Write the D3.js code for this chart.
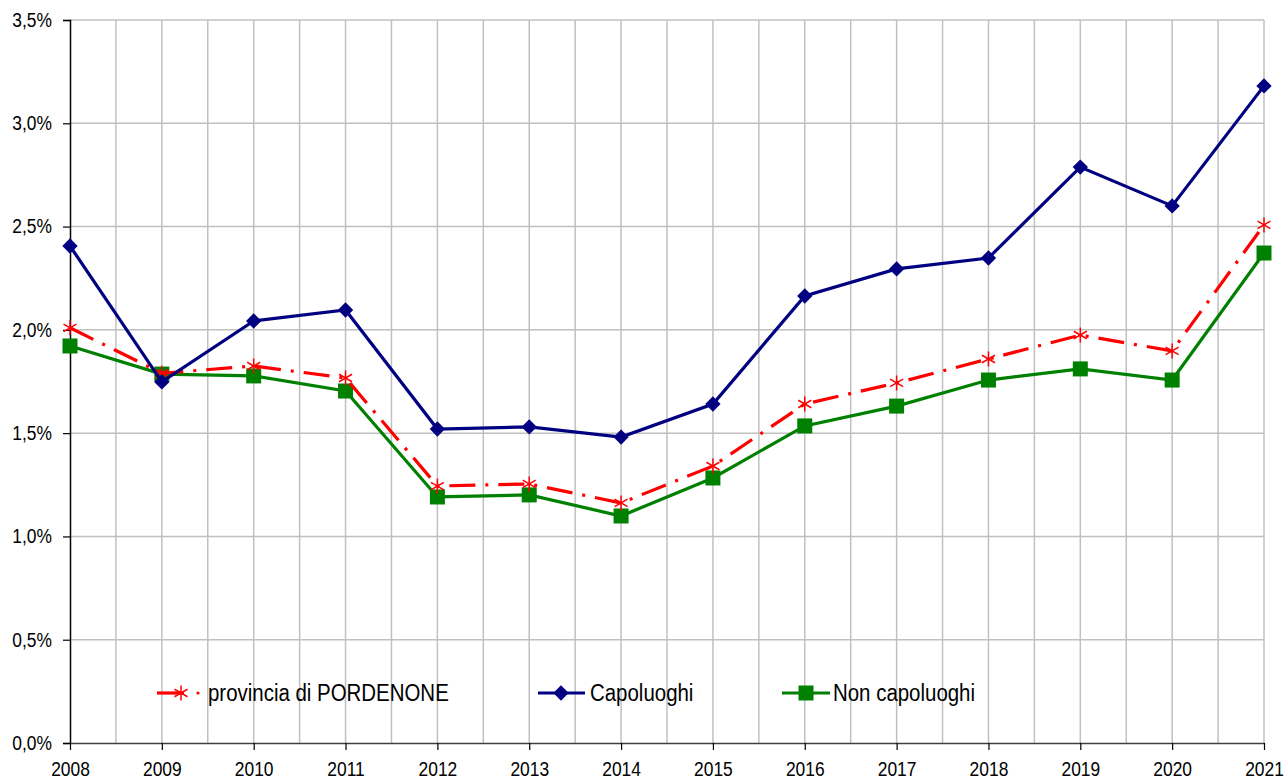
<!DOCTYPE html>
<html>
<head>
  <script src="https://d3js.org/d3.v7.min.js"></script>
  <style>
    body { margin: 0; background: #fff; }
    text { font-family: "Liberation Sans", Arial, sans-serif; fill: #000; }
  </style>
</head>
<body>
  <svg id="chart"></svg>
  <script>
    var years = [2008, 2009, 2010, 2011, 2012, 2013, 2014, 2015, 2016, 2017, 2018, 2019, 2020, 2021];
    var provincia = [2.01, 1.79, 1.825, 1.767, 1.244, 1.254, 1.162, 1.341, 1.641, 1.743, 1.859, 1.975, 1.898, 2.508];
    var capoluoghi = [2.406, 1.748, 2.043, 2.096, 1.52, 1.53, 1.481, 1.641, 2.164, 2.295, 2.348, 2.788, 2.6, 3.181];
    var nonCapoluoghi = [1.922, 1.786, 1.777, 1.704, 1.191, 1.201, 1.099, 1.283, 1.535, 1.631, 1.757, 1.811, 1.757, 2.372];
    var yTicks = [0, 0.5, 1, 1.5, 2, 2.5, 3, 3.5];
    var seriesNames = ["provincia di PORDENONE", "Capoluoghi", "Non capoluoghi"];

    var width = 1284, height = 778;
    var margin = { top: 20, right: 20, bottom: 35, left: 70 };
    var innerWidth = width - margin.left - margin.right;
    var innerHeight = height - margin.top - margin.bottom;
    var squeeze = 0.87; // narrow look of the original font

    var svg = d3.select("#chart").attr("width", width).attr("height", height);
    var chart = svg.append("g")
      .attr("transform", "translate(" + margin.left + "," + margin.top + ")");

    var x = d3.scaleLinear().domain([2008, 2021]).range([0, innerWidth]);
    var y = d3.scaleLinear().domain([0, 3.5]).range([innerHeight, 0]);

    // vertical grid at years and half years
    var vgrid = [];
    years.forEach(function(yr, i) {
      vgrid.push(yr);
      if (i < years.length - 1) vgrid.push(yr + 0.5);
    });
    chart.selectAll(".vgrid").data(vgrid.slice(1)).enter().append("line")
      .attr("x1", d => x(d)).attr("x2", d => x(d))
      .attr("y1", 0).attr("y2", innerHeight)
      .attr("stroke", "#c0c0c0").attr("stroke-width", 1.5);

    chart.selectAll(".hgrid").data(yTicks.slice(1)).enter().append("line")
      .attr("x1", 0).attr("x2", innerWidth)
      .attr("y1", d => y(d)).attr("y2", d => y(d))
      .attr("stroke", "#c0c0c0").attr("stroke-width", 1.5);

    // axes
    var yAxis = chart.append("g")
      .call(d3.axisLeft(y).tickValues(yTicks).tickSize(7)
        .tickFormat(d => d.toFixed(1).replace(".", ",") + "%"));
    yAxis.select(".domain").attr("stroke", "#000").attr("stroke-width", 1.5);
    yAxis.selectAll("line").attr("stroke", "#000").attr("stroke-width", 1.2);
    yAxis.selectAll("text")
      .attr("x", 0)
      .attr("transform", "translate(-18,0) scale(" + squeeze + ",1)")
      .style("font-size", "20px").style("font-family", "Liberation Sans, Arial, sans-serif");

    var xAxis = chart.append("g")
      .attr("transform", "translate(0," + innerHeight + ")")
      .call(d3.axisBottom(x).tickValues(years).tickSize(7)
        .tickSizeOuter(0).tickFormat(d3.format("d")));
    xAxis.select(".domain").attr("stroke", "#404040").attr("stroke-width", 1.5);
    xAxis.selectAll("line").attr("stroke", "#000").attr("stroke-width", 1.2);
    xAxis.selectAll("text")
      .attr("y", 0).attr("dy", null)
      .attr("transform", "translate(0,33) scale(" + squeeze + ",1)")
      .style("font-size", "20px").style("font-family", "Liberation Sans, Arial, sans-serif");

    var line = d3.line().x((d, i) => x(years[i])).y(d => y(d));

    // Non capoluoghi (green)
    chart.append("path").datum(nonCapoluoghi)
      .attr("d", line).attr("fill", "none")
      .attr("stroke", "#008000").attr("stroke-width", 3.2);
    chart.selectAll(".sq").data(nonCapoluoghi).enter().append("rect")
      .attr("x", (d, i) => x(years[i]) - 7.5).attr("y", d => y(d) - 7.5)
      .attr("width", 15).attr("height", 15).attr("fill", "#008000");

    // provincia (red dash-dot)
    chart.append("path").datum(provincia)
      .attr("d", line).attr("fill", "none")
      .attr("stroke", "#ff0000").attr("stroke-width", 3.2)
      .attr("stroke-dasharray", "26,10,3,10");
    function drawStar(g, cx, cy) {
      var r = 7.5;
      [0, 60, 120].forEach(function(a) {
        var rad = a * Math.PI / 180;
        g.append("line")
          .attr("x1", cx - r * Math.sin(rad)).attr("y1", cy - r * Math.cos(rad))
          .attr("x2", cx + r * Math.sin(rad)).attr("y2", cy + r * Math.cos(rad))
          .attr("stroke", "#ff0000").attr("stroke-width", 1.5);
      });
    }
    provincia.forEach(function(d, i) { drawStar(chart, x(years[i]), y(d)); });

    // Capoluoghi (navy)
    chart.append("path").datum(capoluoghi)
      .attr("d", line).attr("fill", "none")
      .attr("stroke", "#000080").attr("stroke-width", 3.2);
    var diamond = d3.symbol().type(d3.symbolDiamond2).size(150);
    chart.selectAll(".dm").data(capoluoghi).enter().append("path")
      .attr("d", diamond)
      .attr("transform", (d, i) => "translate(" + x(years[i]) + "," + y(d) + ")")
      .attr("fill", "#000080");

    // legend
    var ly = 693;
    var leg = svg.append("g");
    function legText(tx, label) {
      leg.append("text")
        .attr("transform", "translate(" + tx + "," + (ly + 8) + ") scale(" + squeeze + ",1)")
        .style("font-size", "23.5px").text(label);
    }
    leg.append("line").attr("x1", 157).attr("x2", 184).attr("y1", ly).attr("y2", ly)
      .attr("stroke", "#ff0000").attr("stroke-width", 3.2);
    drawStar(leg, 181, ly);
    leg.append("circle").attr("cx", 198).attr("cy", ly).attr("r", 1.6).attr("fill", "#ff0000");
    legText(208, seriesNames[0]);

    leg.append("line").attr("x1", 538).attr("x2", 585).attr("y1", ly).attr("y2", ly)
      .attr("stroke", "#000080").attr("stroke-width", 3.2);
    leg.append("path").attr("d", diamond).attr("transform", "translate(561," + ly + ")").attr("fill", "#000080");
    legText(590, seriesNames[1]);

    leg.append("line").attr("x1", 782).attr("x2", 830).attr("y1", ly).attr("y2", ly)
      .attr("stroke", "#008000").attr("stroke-width", 3.2);
    leg.append("rect").attr("x", 798.5).attr("y", ly - 7.5).attr("width", 15).attr("height", 15).attr("fill", "#008000");
    legText(833, seriesNames[2]);
  </script>
</body>
</html>
